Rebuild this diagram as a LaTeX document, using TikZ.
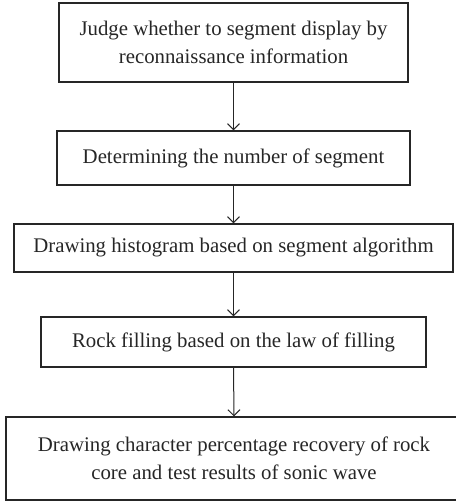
\documentclass[tikz,border=0pt]{standalone}
\usepackage{fontspec}
\setmainfont{Liberation Serif}
\usetikzlibrary{arrows.meta}
\definecolor{ink}{HTML}{262626}
\begin{document}
\begin{tikzpicture}[x=1pt,y=1pt,
  stepbox/.style={draw=ink, line width=1.2pt, text=ink, align=center, inner sep=0pt,
    font=\fontsize{20.8}{28}\selectfont},
  flow/.style={draw=ink, line width=1pt, -{Straight Barb[length=6pt,width=12pt]}}]
\useasboundingbox (0,0) rectangle (455,502);
\node[stepbox, minimum width=349pt, minimum height=79pt] (b1) at (233.5,459.5)
  {Judge whether to segment display by\\reconnaissance information};
\node[stepbox, minimum width=353pt, minimum height=54pt] (b2) at (233.5,344)
  {Determining the number of segment};
\node[stepbox, minimum width=439pt, minimum height=48pt] (b3) at (233.5,254)
  {Drawing histogram based on segment algorithm};
\node[stepbox, minimum width=385pt, minimum height=50pt] (b4) at (233.5,160)
  {Rock filling based on the law of filling};
\node[stepbox, minimum width=456pt, minimum height=83pt] (b5) at (234,43.5)
  {Drawing character percentage recovery of rock\\core and test results of sonic wave};
\draw[flow] (b1.south) -- (b2.north);
\draw[flow] (b2.south) -- (b3.north);
\draw[flow] (b3.south) -- (b4.north);
\draw[flow] (b4.south) -- (b5.north);
\end{tikzpicture}
\end{document}
